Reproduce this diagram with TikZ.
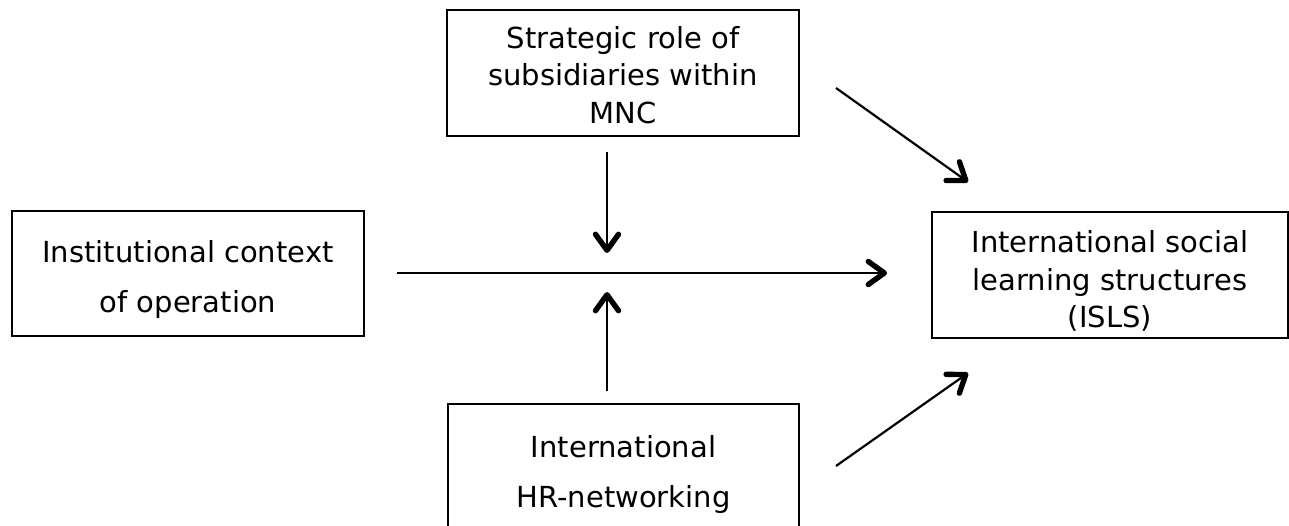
\documentclass[tikz,border=0pt]{standalone}
\usepackage{fontspec}
\setmainfont{DejaVu Sans}
\usetikzlibrary{arrows.meta}
\begin{document}
\begin{tikzpicture}[x=1pt,y=-1pt,
  box/.style={draw,line width=1.3pt,inner sep=0pt},
  tight/.style={align=center,font=\fontsize{29}{37.5}\selectfont},
  loose/.style={align=center,font=\fontsize{29}{50}\selectfont},
  link/.style={line width=2.2pt,-{Straight Barb[length=16pt,width=23pt,line width=5.4pt,round]}}]
\useasboundingbox (0,0) rectangle (1289,526);
\clip (0,0) rectangle (1289,526);
% boxes
\node[box,minimum width=352pt,minimum height=126pt] (role) at (623,73) {};
\node[box,minimum width=352pt,minimum height=125pt] (inst) at (188,273.5) {};
\node[box,minimum width=356pt,minimum height=126pt] (isls) at (1110,275) {};
\node[box,minimum width=351pt,minimum height=140pt] (hr) at (623.5,474) {};
% box labels
\node[tight] (roletext) at (623,75) {Strategic role of\\subsidiaries within\\MNC};
\node[loose] (insttext) at (188,279) {Institutional context\\of operation};
\node[tight] (isltext) at (1110,281) {International social\\learning structures\\(ISLS)};
\node[loose] (hrtext) at (623.5,474) {International\\HR-networking};
% connector end points
\coordinate (hstart) at (397,273);
\coordinate (hend) at (887,273);
\coordinate (dtop) at (607,152);
\coordinate (dbot) at (607,253);
\coordinate (utop) at (607,292);
\coordinate (ubot) at (607,391);
\coordinate (a1) at (836,88);
\coordinate (b1) at (968,182);
\coordinate (a2) at (836,466);
\coordinate (b2) at (968,373);
% connectors
\draw[link] (hstart) -- (hend);
\draw[link] (dtop) -- (dbot);
\draw[link] (ubot) -- (utop);
\draw[link] (a1) -- (b1);
\draw[link] (a2) -- (b2);
\end{tikzpicture}
\end{document}
